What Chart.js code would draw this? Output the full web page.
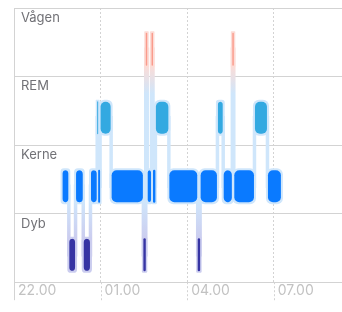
<!DOCTYPE html>
<html><head><meta charset="utf-8">
<script src="https://cdn.jsdelivr.net/npm/chart.js@4/dist/chart.umd.min.js"></script>
<style>html,body{margin:0;padding:0;background:#fff}#wrap{width:342px;height:312px;position:relative}</style>
</head><body><div id="wrap"><canvas id="c"></canvas></div>
<script>
// ---- data ----
const stageLabels = ['Vågen', 'REM', 'Kerne', 'Dyb'];
const segStages = ['Kerne','Dyb','Kerne','Dyb','Kerne','REM','Kerne','REM','Kerne','Dyb','Vågen','Kerne','Vågen','Kerne','REM','Kerne','Dyb','Kerne','REM','Kerne','Vågen','Kerne','REM','Kerne'];
const segStarts = ['23:40','23:54','00:08','00:24','00:39','00:53','00:55','00:59','01:22','02:29','02:34','02:37','02:46','02:49','02:54','03:22','04:22','04:27','05:03','05:15','05:34','05:37','06:20','06:47'];
const segEnds   = ['23:54','00:08','00:24','00:39','00:53','00:55','00:59','01:22','02:29','02:34','02:37','02:46','02:49','02:54','03:22','04:22','04:27','05:03','05:15','05:34','05:37','06:20','06:47','07:16'];
const tickTimes  = ['22:00','01:00','04:00','07:00'];
const tickLabels = ['22.00','01.00','04.00','07.00'];
const axisStart = '22:00';
const axisEnd = '09:22';

// ---- helpers / styles ----
function toMin(t) {
  const [h, m] = t.split(':').map(Number);
  const [h0, m0] = axisStart.split(':').map(Number);
  let v = h * 60 + m - (h0 * 60 + m0);
  if (v < 0) v += 1440;
  return v;
}
const mainColor = { 'Vågen': '#FA9B8C', 'REM': '#33A9E1', 'Kerne': '#0A7AFF', 'Dyb': '#3634A3' };
const haloColor = { 'Vågen': '#FCDCD6', 'REM': '#CFE6FB', 'Kerne': '#CFE6FB', 'Dyb': '#CBCDEF' };
const LEVEL_OFFSET = 0.6;
const GRID = '#d3d3d3';

const barData = segStages.map((s, i) => ({ y: stageLabels.indexOf(s) + LEVEL_OFFSET, x: [toMin(segStarts[i]), toMin(segEnds[i])] }));
const linePts = [];
segStages.forEach((s, i) => {
  const lv = stageLabels.indexOf(s) + LEVEL_OFFSET;
  linePts.push({ x: toMin(segStarts[i]), y: lv });
  linePts.push({ x: toMin(segEnds[i]), y: lv });
});

function connectorColor(c) {
  const chart = c.chart, area = chart.chartArea;
  if (!area) return haloColor.Kerne;
  const y = chart.scales.y;
  const f = v => Math.min(1, Math.max(0, (y.getPixelForValue(v) - area.top) / (area.bottom - area.top)));
  const g = chart.ctx.createLinearGradient(0, area.top, 0, area.bottom);
  g.addColorStop(0, haloColor['Vågen']);
  g.addColorStop(f(0.84), haloColor['Vågen']);
  g.addColorStop(f(1.25), haloColor.REM);
  g.addColorStop(f(2.82), haloColor.Kerne);
  g.addColorStop(f(3.35), haloColor.Dyb);
  g.addColorStop(1, haloColor.Dyb);
  return g;
}
function mainInflate(c) {
  const x = c.chart.scales.x;
  const r = c.raw;
  if (!x || !r) return 0;
  const w = Math.abs(x.getPixelForValue(r.x[1]) - x.getPixelForValue(r.x[0]));
  return w < 4 ? 0 : -0.5;
}

const bandLabelPlugin = {
  id: 'bandLabels',
  beforeDatasetsDraw(chart) {
    // tick extensions below the x axis
    const { ctx, chartArea, scales: { x } } = chart;
    ctx.save();
    ctx.strokeStyle = GRID;
    ctx.lineWidth = 1;
    x.ticks.forEach((t, i) => {
      const px = Math.round(x.getPixelForTick(i)) + 0.5;
      ctx.setLineDash(i === 0 ? [] : [2, 2]);
      ctx.beginPath();
      ctx.moveTo(px, chartArea.bottom);
      ctx.lineTo(px, chartArea.bottom + 18);
      ctx.stroke();
    });
    ctx.restore();
  },
  afterDatasetsDraw(chart) {
    const { ctx, chartArea, scales: { y } } = chart;
    ctx.save();
    ctx.font = '13px Inter';
    ctx.fillStyle = '#717176';
    ctx.textBaseline = 'top';
    ctx.textAlign = 'left';
    stageLabels.forEach((lab, i) => ctx.fillText(lab, chartArea.left + 7, y.getPixelForValue(i) + 3.5));
    ctx.restore();
  }
};

new Chart(document.getElementById('c'), {
  type: 'bar',
  data: {
    datasets: [
      { type: 'line', indexAxis: 'x', data: linePts, borderColor: connectorColor, borderWidth: 3.5,
        pointRadius: 0, fill: false, tension: 0, order: 3 },
      { type: 'bar', indexAxis: 'y', data: barData, backgroundColor: segStages.map(s => haloColor[s]),
        inflateAmount: 1.5, borderRadius: 6, borderSkipped: false, grouped: false,
        maxBarThickness: 33, barPercentage: 1, categoryPercentage: 1, order: 2 },
      { type: 'bar', indexAxis: 'y', data: barData, backgroundColor: segStages.map(s => mainColor[s]),
        inflateAmount: mainInflate, borderRadius: 5, borderSkipped: false, grouped: false,
        maxBarThickness: 33, barPercentage: 1, categoryPercentage: 1, order: 1 }
    ]
  },
  options: {
    responsive: true, maintainAspectRatio: false, animation: false, devicePixelRatio: 1,
    layout: { padding: { left: 14, top: 8, right: 0, bottom: 13 } },
    plugins: { legend: { display: false }, tooltip: { enabled: false } },
    scales: {
      x: {
        type: 'linear', position: 'bottom', min: 0, max: toMin(axisEnd), offset: false,
        afterBuildTicks: s => { s.ticks = tickTimes.map(t => ({ value: toMin(t) })); },
        ticks: { callback: (v, i) => tickLabels[i], align: 'start', labelOffset: 4, padding: 0,
                 color: '#c2c2c2', font: { family: 'Inter', size: 14 }, maxRotation: 0, autoSkip: false },
        grid: { offset: false, color: GRID, lineWidth: 1, drawTicks: false },
        border: { display: true, color: GRID, dash: c => c.index === 0 ? [] : [2, 2] }
      },
      y: {
        type: 'linear', min: 0, max: stageLabels.length, reverse: true, offset: false,
        afterBuildTicks: s => { s.ticks = stageLabels.map((_, i) => ({ value: i })).concat([{ value: stageLabels.length }]); },
        ticks: { display: false },
        grid: { offset: false, color: GRID, lineWidth: 1, drawTicks: false },
        border: { display: true, color: GRID }
      }
    }
  },
  plugins: [bandLabelPlugin]
});
</script>
</body></html>
